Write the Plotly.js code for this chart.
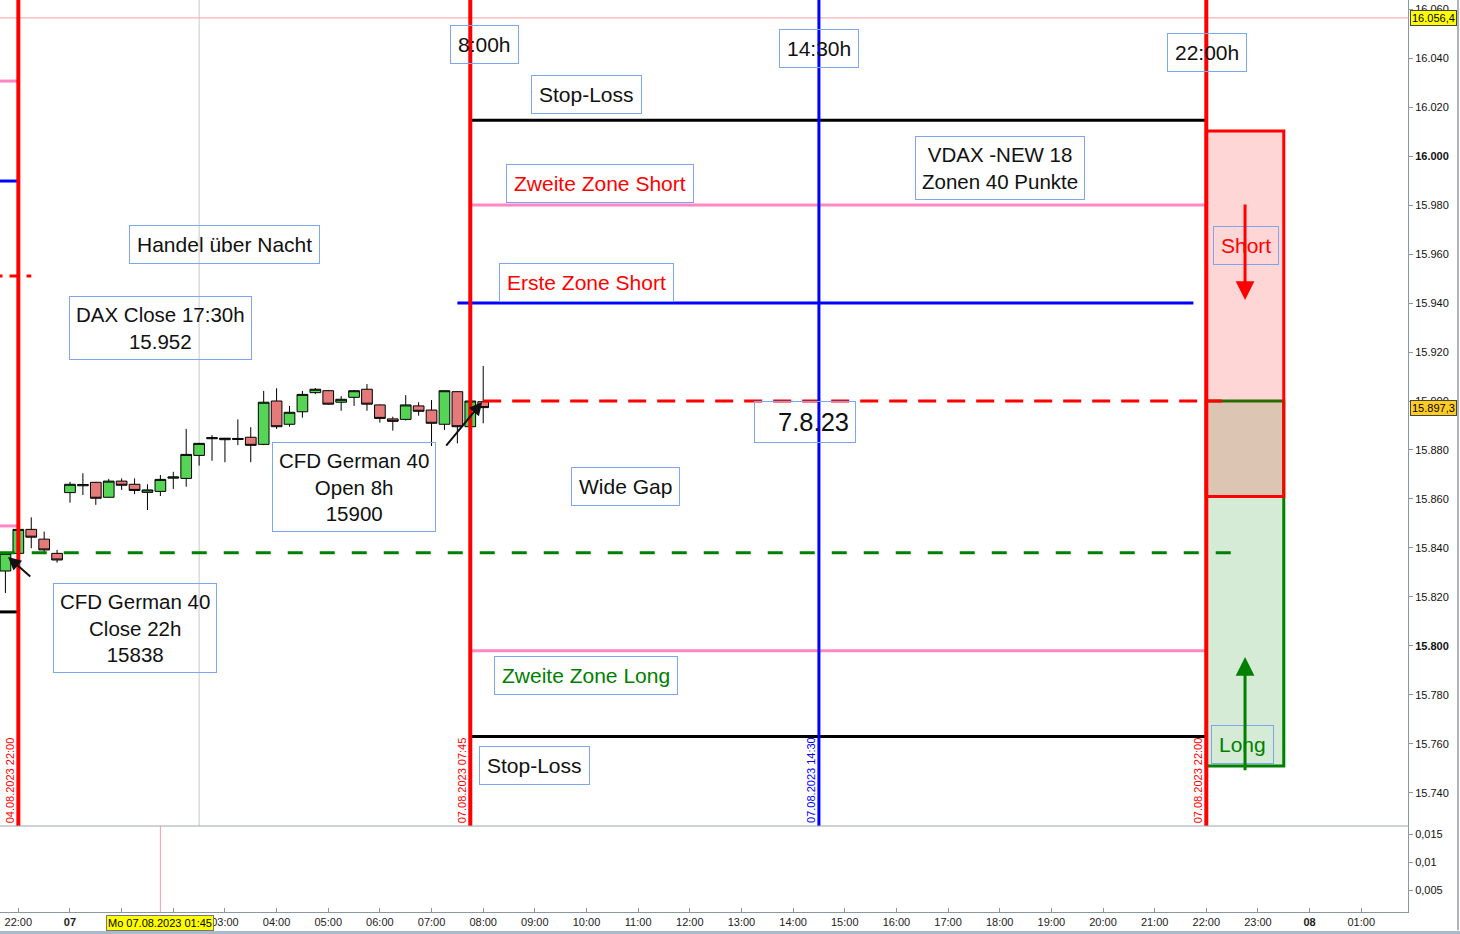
<!DOCTYPE html>
<html><head><meta charset="utf-8">
<script src="https://cdn.plot.ly/plotly-3.0.1.min.js"></script>
<style>html,body{margin:0;padding:0;background:#fff;} #chart{width:1460px;height:934px;}</style>
</head><body><div id="chart"></div><script>
// Time axis: hours from Mo 07.08.2023 00:00 (Fr 04.08.2023 22:00 = -1, weekend skipped)
const candleTimes = [-1.25,-1,-0.75,-0.5,-0.25,
  0,0.25,0.5,0.75,1,1.25,1.5,1.75,2,2.25,2.5,2.75,3,3.25,3.5,3.75,
  4,4.25,4.5,4.75,5,5.25,5.5,5.75,6,6.25,6.5,6.75,7,7.25,7.5,7.75,8];
const opens  = [15830.6,15837.8,15847.6,15843.6,15837.8,
  15862.6,15865.4,15866.8,15860.7,15867.3,15866.0,15862.7,15863.1,15868.5,15868.4,15877.8,15884.6,15884.2,15884.3,15885.2,15882.3,
  15900.0,15890.5,15895.6,15903.4,15904.2,15899.5,15901.5,15904.8,15898.4,15892.7,15892.5,15898.0,15896.3,15890.5,15903.8,15889.5,15899.7];
const highs  = [15838.0,15848.0,15852.5,15846.7,15839.2,
  15867.0,15870.5,15867.0,15868.2,15868.4,15868.4,15866.0,15869.8,15871.1,15888.6,15882.9,15886.1,15884.9,15892.5,15889.3,15904.1,
  15905.2,15898.0,15904.1,15905.3,15904.5,15902.0,15904.5,15906.9,15898.6,15893.6,15902.4,15899.5,15900.4,15904.3,15904.0,15900.2,15914.3];
const lows   = [15821.6,15837.5,15839.9,15837.5,15834.0,
  15858.5,15861.6,15857.6,15860.5,15863.7,15862.0,15855.5,15861.2,15864.1,15865.0,15873.6,15875.6,15875.0,15882.0,15875.0,15882.0,
  15888.6,15889.5,15893.2,15902.8,15898.5,15896.0,15898.0,15896.0,15891.2,15887.9,15892.0,15894.0,15881.6,15888.2,15882.7,15889.3,15890.9];
const closes = [15837.8,15847.6,15844.4,15839.2,15835.1,
  15866.0,15865.9,15860.3,15867.3,15865.6,15863.5,15863.7,15868.0,15869.0,15878.2,15882.7,15885.0,15884.8,15884.7,15881.9,15899.5,
  15889.5,15895.4,15902.7,15904.8,15898.7,15900.7,15904.2,15898.7,15892.9,15891.7,15898.4,15895.8,15890.9,15904.2,15889.5,15900.0,15897.3];

// x tick labels (01:00 and 02:00 of Monday sit under the crosshair label)
const tickHours = [-1,0,1,2,3,4,5,6,7,8,9,10,11,12,13,14,15,16,17,18,19,20,21,22,23,24,25];
const tickLabels = ['22:00','<b>07</b>','','','03:00','04:00','05:00','06:00','07:00','08:00','09:00','10:00','11:00','12:00','13:00','14:00','15:00','16:00','17:00','18:00','19:00','20:00','21:00','22:00','23:00','<b>08</b>','01:00'];
// price tick labels
const priceTicks = [15740,15760,15780,15800,15820,15840,15860,15880,15900,15920,15940,15960,15980,16000,16020,16040,16060];
const priceTickLabels = ['15.740','15.760','15.780','<b>15.800</b>','15.820','15.840','15.860','15.880','15.900','15.920','15.940','15.960','15.980','<b>16.000</b>','16.020','16.040','16.060'];
const subTicks = [0.005,0.01,0.015];
const subTickLabels = ['0,005','0,01','0,015'];

// trading levels 07.08.2023
const levelPrices = [16014.6,15980.0,15940.0,15900.0,15838.0,15798.0,15763.0];
const levelFrom   = [7.75,7.75,7.5,8.0,-1.36,7.75,7.75];
const levelTo     = [22.0,22.0,21.75,22.3,22.5,22.0,22.0];
// levels of the previous day (left of 04.08 22:00)
const prevLevelPrices = [16030.6,15989.8,15951.0,15849.0,15813.9];
const prevLevelTo     = [-1,-1,-0.75,-1,-1];
// vertical time markers
const markerHours = [-1,7.75,14.5,22];
const markerLabels = ['04.08.2023 22:00','07.08.2023 07:45','07.08.2023 14:30','07.08.2023 22:00'];
// zone boxes (from, to hours; low, high price)
const zoneFrom = [22,22], zoneTo = [23.5,23.5];
const zoneLow = [15751.0,15861.0], zoneHigh = [15900.0,16010.2];
// crosshair
const crossPrice = 16056.4, lastPrice = 15897.3, crossHour = 1.75, gridHour = 2.5;

// text notes
const noteTexts = ['8:00h','14:30h','22:00h','Stop-Loss','Zweite Zone Short','VDAX -NEW 18<br>Zonen 40 Punkte',
  'Handel über Nacht','Erste Zone Short','Short','DAX Close 17:30h<br>15.952','7.8.23',
  'CFD German 40<br>Open 8h<br>15900','Wide Gap','CFD German 40<br>Close 22h<br>15838','Zweite Zone Long','Long','Stop-Loss'];
const noteX = [8.02,14.5,22.01,10.0,10.26,18.0,3.0,10.0,22.77,1.76,14.23,5.5,10.76,1.26,10.0,22.7,9.0];
const noteY = [16045.7,16044.1,16042.4,16025.3,15988.6,15995.1,15963.7,15948.2,15963.3,15929.8,15891.6,15864.9,15865.3,15807.3,15787.8,15759.6,15751.4];
// arrows: tail -> head
const arrowTailX = [7.26,-0.74,22.75,22.75], arrowTailY = [15881.2,15827.8,15980.8,15748.6];
const arrowHeadX = [7.98,-1.2,22.75,22.75],  arrowHeadY = [15899.6,15836.3,15941.2,15795.5];

// ---------- styles ----------
const FONT = 'Liberation Sans, Arial, sans-serif';
const levelColors = ['#000000','#ff88c4','#0000ff','#ff0000','#008000','#ff88c4','#000000'];
const levelDash = ['solid','solid','solid','18px,11px','15px,17px','solid','solid'];
const prevColors = ['#ff88c4','#0000ff','#ff0000','#ff88c4','#000000'];
const prevDash = ['solid','solid','10px,7px','solid','solid'];
const markerColors = ['#ff0000','#ff0000','#0000ff','#ff0000'];
const zoneFill = ['rgba(0,128,0,0.16)','rgba(255,0,0,0.16)'];
const zoneLine = ['#008000','#ff0000'];
const noteColors = ['#111','#111','#111','#111','#ff0000','#111','#111','#ff0000','#ff0000','#111','#111','#111','#111','#111','#008000','#008000','#111'];
const arrowColors = ['#111','#111','#ff0000','#008000'];

const shapes = [];
shapes.push({type:'line',xref:'x',yref:'y',x0:-1.5,x1:26,y0:crossPrice,y1:crossPrice,line:{color:'#f4a0a0',width:1},layer:'below'});
shapes.push({type:'line',xref:'x',yref:'y domain',x0:gridHour,x1:gridHour,y0:0,y1:1,line:{color:'#c8c8d0',width:1},layer:'below'});
shapes.push({type:'line',xref:'x',yref:'y2 domain',x0:crossHour,x1:crossHour,y0:0,y1:1,line:{color:'#f4a0a0',width:1},layer:'below'});
for (let i=0;i<zoneFrom.length;i++){
  shapes.push({type:'rect',xref:'x',yref:'y',x0:zoneFrom[i],x1:zoneTo[i],y0:zoneLow[i],y1:zoneHigh[i],
    fillcolor:zoneFill[i],line:{color:zoneLine[i],width:3},layer:'above'});
}
for (let i=0;i<levelPrices.length;i++){
  shapes.push({type:'line',xref:'x',yref:'y',x0:levelFrom[i],x1:levelTo[i],y0:levelPrices[i],y1:levelPrices[i],
    line:{color:levelColors[i],width:3,dash:levelDash[i]},layer:'above'});
}
for (let i=0;i<prevLevelPrices.length;i++){
  shapes.push({type:'line',xref:'x',yref:'y',x0:-1.5,x1:prevLevelTo[i],y0:prevLevelPrices[i],y1:prevLevelPrices[i],
    line:{color:prevColors[i],width:3,dash:prevDash[i]},layer:'above'});
}
for (let i=0;i<markerHours.length;i++){
  shapes.push({type:'line',xref:'x',yref:'y domain',x0:markerHours[i],x1:markerHours[i],y0:0,y1:1,
    line:{color:markerColors[i],width:i===2?3:4},layer:'above'});
}
const subFrac = 86/912;
shapes.push({type:'line',xref:'paper',yref:'paper',x0:0,x1:1,y0:subFrac,y1:subFrac,line:{color:'#9aa6ae',width:1}});
shapes.push({type:'line',xref:'paper',yref:'paper',x0:1458/1408,x1:1458/1408,y0:-0.02,y1:1,line:{color:'#5d6870',width:1}});
shapes.push({type:'rect',xref:'paper',yref:'paper',x0:-0.01,x1:1.05,y0:-0.03,y1:-19/912,fillcolor:'#a9bccb',line:{width:0}});

const annotations = [];
for (let i=0;i<noteTexts.length;i++){
  const multi = noteTexts[i].indexOf('<br>')>=0;
  const a = {xref:'x',yref:'y',x:noteX[i],y:noteY[i],text:noteTexts[i],showarrow:false,
    font:{family:FONT,size:multi?20.5:21,color:noteColors[i]},bordercolor:'#7ea6ee',borderwidth:1,borderpad:multi?6:7,
    bgcolor:'rgba(0,0,0,0)',align:'center'};
  if (noteTexts[i]==='7.8.23'){ a.font.size=25.5; a.width=88; a.align='right'; a.borderpad=6; }
  annotations.push(a);
}
for (let i=0;i<arrowTailX.length;i++){
  annotations.push({xref:'x',yref:'y',axref:'x',ayref:'y',x:arrowHeadX[i],y:arrowHeadY[i],ax:arrowTailX[i],ay:arrowTailY[i],
    text:'',showarrow:true,arrowhead:2,arrowsize:i<2?1.3:1.25,arrowwidth:i<2?2:3,arrowcolor:arrowColors[i],standoff:0});
}
for (let i=0;i<markerHours.length;i++){
  annotations.push({xref:'x',yref:'y domain',x:markerHours[i],y:0,yanchor:'bottom',xanchor:'center',xshift:-8,yshift:1,
    text:markerLabels[i],textangle:-90,showarrow:false,font:{family:FONT,size:11,color:markerColors[i]}});
}
[crossPrice,lastPrice].forEach((p,i)=>{
  annotations.push({xref:'paper',yref:'y',x:1410/1408,xanchor:'left',y:p,
    text:p.toFixed(1).replace('.',',').replace(/^(\d\d)(\d\d\d)/,'$1.$2'),showarrow:false,
    font:{family:FONT,size:11,color:'#000'},bgcolor:i===0?'#ffff00':'#ffcc22',bordercolor:'#444',borderwidth:1,borderpad:1});
});
annotations.push({xref:'x',yref:'paper',x:crossHour,y:-11/912,yanchor:'middle',xanchor:'center',
  text:'Mo 07.08.2023 01:45',showarrow:false,font:{family:FONT,size:11,color:'#000'},
  bgcolor:'#ffff00',bordercolor:'#777',borderwidth:1,borderpad:1});

const traces = [{
  type:'candlestick',x:candleTimes,open:opens,high:highs,low:lows,close:closes,xaxis:'x',yaxis:'y',
  increasing:{line:{color:'#000',width:1},fillcolor:'#55d455'},
  decreasing:{line:{color:'#000',width:1},fillcolor:'#e57a7a'},
  whiskerwidth:0,hoverinfo:'skip',showlegend:false
},{type:'scatter',x:[],y:[],xaxis:'x',yaxis:'y2',showlegend:false}];

const layout = {
  width:1460,height:934,margin:{l:0,r:52,t:0,b:22},
  paper_bgcolor:'#fff',plot_bgcolor:'#fff',showlegend:false,
  boxgap:0.1,boxgroupgap:0.08,
  xaxis:{range:[-1.355,25.905],anchor:'y2',tickvals:tickHours,ticktext:tickLabels,
    tickfont:{family:FONT,size:11,color:'#222'},ticks:'inside',ticklen:4,tickcolor:'#8a98a2',
    showgrid:false,zeroline:false,showline:true,linecolor:'#8a98a2',linewidth:1,
    rangeslider:{visible:false},fixedrange:true},
  yaxis:{domain:[subFrac,1],range:[15726.5,16063.7],side:'right',anchor:'x',
    tickvals:priceTicks,ticktext:priceTickLabels,tickfont:{family:FONT,size:11,color:'#111'},
    ticks:'outside',ticklen:4,tickcolor:'#8a98a2',showgrid:false,zeroline:false,
    showline:true,linecolor:'#8a98a2',linewidth:1},
  yaxis2:{domain:[0,subFrac],range:[0.00107,0.01643],side:'right',anchor:'x',
    tickvals:subTicks,ticktext:subTickLabels,tickfont:{family:FONT,size:11,color:'#111'},
    ticks:'outside',ticklen:4,tickcolor:'#8a98a2',showgrid:false,zeroline:false,
    showline:true,linecolor:'#8a98a2',linewidth:1},
  shapes:shapes,annotations:annotations
};
Plotly.newPlot('chart',traces,layout,{staticPlot:true,displayModeBar:false});
</script></body></html>
